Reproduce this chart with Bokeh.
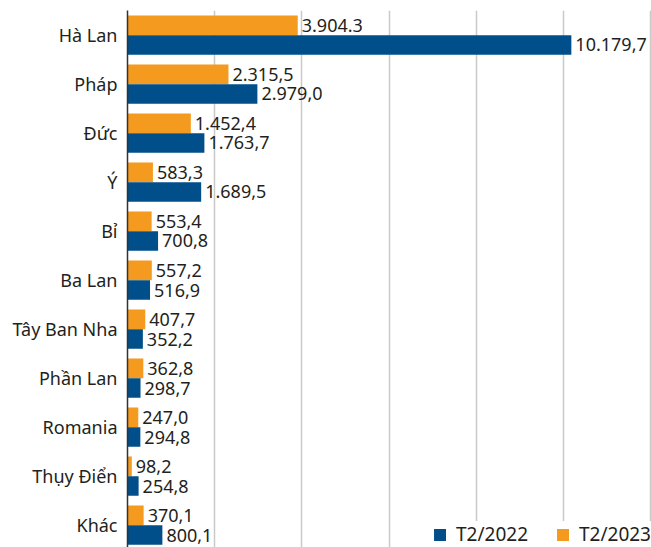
from bokeh.plotting import figure
from bokeh.models import Range1d, FixedTicker, ColumnDataSource, Legend, LegendItem
from bokeh.transform import dodge
from bokeh.core.properties import value
from bokeh.embed import file_html
from bokeh.resources import INLINE

# ---- data ----
categories = ["Hà Lan", "Pháp", "Đức", "Ý", "Bỉ", "Ba Lan", "Tây Ban Nha",
              "Phần Lan", "Romania", "Thụy Điển", "Khác"]
t2_2022 = [10179.7, 2979.0, 1763.7, 1689.5, 700.8, 516.9, 352.2, 298.7, 294.8, 254.8, 800.1]
t2_2023 = [3904.3, 2315.5, 1452.4, 583.3, 553.4, 557.2, 407.7, 362.8, 247.0, 98.2, 370.1]
labels_2022 = ["10.179,7", "2.979,0", "1.763,7", "1.689,5", "700,8", "516,9", "352,2",
               "298,7", "294,8", "254,8", "800,1"]
labels_2023 = ["3.904.3", "2.315,5", "1.452,4", "583,3", "553,4", "557,2", "407,7",
               "362,8", "247,0", "98,2", "370,1"]
series_names = ["T2/2022", "T2/2023"]
grid_ticks = [2000, 4000, 6000, 8000, 10000, 12000]

BLUE = "#004F8A"
ORANGE = "#F49A1F"
TXT = "#231F20"
FONT = "Noto Sans"

src = ColumnDataSource(dict(
    y=list(range(len(categories))),
    v22=t2_2022, v23=t2_2023, l22=labels_2022, l23=labels_2023,
))

p = figure(width=651, height=547, output_backend="svg", toolbar_location=None,
           x_range=Range1d(0, 12018), y_range=Range1d(10.455, -0.504),
           min_border_left=127, min_border_right=0, min_border_top=10, min_border_bottom=0)
p.outline_line_color = None
p.background_fill_color = "white"
p.border_fill_color = "white"

p.xaxis.visible = False
p.xgrid.ticker = FixedTicker(ticks=grid_ticks)
p.xgrid.grid_line_color = "#C9C9C9"
p.xgrid.grid_line_width = 1.5
p.ygrid.visible = False

ya = p.yaxis[0]
ya.ticker = FixedTicker(ticks=list(range(len(categories))))
ya.major_label_overrides = {i: c for i, c in enumerate(categories)}
ya.major_tick_line_color = None
ya.minor_tick_line_color = None
ya.major_tick_out = 0
ya.major_label_standoff = 10
ya.axis_line_color = "#333333"
ya.axis_line_width = 1.5
ya.major_label_text_font = FONT
ya.major_label_text_font_size = "18px"
ya.major_label_text_color = TXT

r23 = p.hbar(y=dodge("y", -0.2), right="v23", left=0, height=0.4, source=src,
             fill_color=ORANGE, line_color=None)
r22 = p.hbar(y=dodge("y", 0.2), right="v22", left=0, height=0.4, source=src,
             fill_color=BLUE, line_color=None)

for xf, yoff, tf in (("v23", -0.2, "l23"), ("v22", 0.2, "l22")):
    p.text(x=xf, y=dodge("y", yoff), text=tf, source=src, x_offset=4,
           text_baseline="middle", text_align="left", text_font=value(FONT),
           text_font_size="18px", text_color=TXT)

legend = Legend(items=[LegendItem(label=series_names[0], renderers=[r22]),
                       LegendItem(label=series_names[1], renderers=[r23])],
                orientation="horizontal", location="bottom_right")
legend.margin = 0
legend.padding = 0
legend.spacing = 27
legend.label_standoff = 9
legend.glyph_width = 15
legend.glyph_height = 15
legend.border_line_color = None
legend.background_fill_color = "white"
legend.background_fill_alpha = 1.0
legend.label_text_font = FONT
legend.label_text_font_size = "19px"
legend.label_text_color = TXT
p.add_layout(legend)

open("out.html", "w").write(file_html(p, INLINE))
